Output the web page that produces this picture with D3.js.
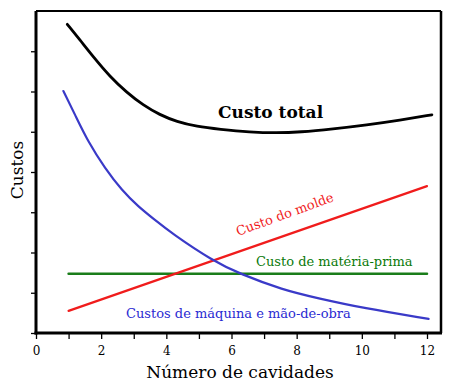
<!DOCTYPE html>
<html>
<head>
<meta charset="utf-8">
<script src="https://cdn.jsdelivr.net/npm/d3@7"></script>
<style>
  body { margin: 0; background: #fff; }
  svg text { font-family: "DejaVu Serif", serif; }
</style>
</head>
<body>
<svg id="chart" width="455" height="389"></svg>
<script>
// values (x = number of cavities, y = cost, no unit)
const xTicks = [0, 1, 2, 3, 4, 5, 6, 7, 8, 9, 10, 11, 12];
const yTicks = [0, 1, 2, 3, 4, 5, 6, 7];

const totalX = [0.96, 1.35, 1.76, 2.27, 2.78, 3.29, 3.8, 4.32, 4.93, 5.64, 6.56, 7.39, 8.1, 9.11, 10.15, 11.17, 12.15];
const totalY = [7.67, 7.28, 6.86, 6.37, 5.98, 5.66, 5.42, 5.25, 5.13, 5.06, 4.99, 4.97, 4.99, 5.07, 5.17, 5.29, 5.42];

const machineX = [0.84, 1.2, 1.6, 2.12, 2.63, 3.14, 3.65, 4.16, 5.43, 6.26, 7.58, 8.62, 10.03, 12.05];
const machineY = [6.01, 5.42, 4.75, 4.09, 3.55, 3.14, 2.81, 2.48, 1.79, 1.47, 1.07, 0.87, 0.62, 0.35];

const moldX = [1, 12];
const moldY = [0.55, 3.65];

const materialX = [1, 12];
const materialY = [1.47, 1.47];

const svg = d3.select("#chart");

const x = d3.scaleLinear().domain([0, 12]).range([36, 427]);
const y = d3.scaleLinear().domain([0, 8]).range([333, 11]);
const right = 441;

// ticks
const xAxis = svg
  .append("g")
  .attr("transform", `translate(0,${y(0)})`)
  .call(
    d3.axisBottom(x)
      .tickValues(xTicks)
      .tickSize(6)
      .tickSizeOuter(0)
      .tickFormat((d) => (d % 2 === 0 ? d : ""))
  );
xAxis.select(".domain").remove();
xAxis.selectAll("line").attr("stroke", "#000").attr("stroke-width", 1.3);
xAxis
  .selectAll("text")
  .attr("y", 13)
  .attr("fill", "#000")
  .style("font-size", "12px")
  .style("font-family", "DejaVu Serif");

const yAxis = svg
  .append("g")
  .attr("transform", `translate(${x(0)},0)`)
  .call(d3.axisLeft(y).tickValues(yTicks).tickSize(5).tickFormat(""));
yAxis.select(".domain").remove();
yAxis.selectAll("line").attr("stroke", "#000").attr("stroke-width", 1.3);

// frame
svg.append("line").attr("x1", x(0)).attr("x2", right).attr("y1", y(8)).attr("y2", y(8))
  .attr("stroke", "#000").attr("stroke-width", 2);
svg.append("line").attr("x1", right).attr("x2", right).attr("y1", y(8)).attr("y2", y(0))
  .attr("stroke", "#000").attr("stroke-width", 2.5);
svg.append("line").attr("x1", x(0)).attr("x2", x(0)).attr("y1", y(8)).attr("y2", y(0) + 1.5)
  .attr("stroke", "#000").attr("stroke-width", 3);
svg.append("line").attr("x1", x(0) - 1.5).attr("x2", right + 1).attr("y1", y(0)).attr("y2", y(0))
  .attr("stroke", "#000").attr("stroke-width", 3);

const line = d3
  .line()
  .x((d) => x(d[0]))
  .y((d) => y(d[1]))
  .curve(d3.curveBasis);

const series = [
  { xs: materialX, ys: materialY, color: "#1a7d1a", width: 2.5 },
  { xs: moldX, ys: moldY, color: "#f01c1c", width: 2.2 },
  { xs: machineX, ys: machineY, color: "#3a3ac8", width: 2.2 },
  { xs: totalX, ys: totalY, color: "#000", width: 2.8 },
];

svg
  .selectAll("path.series")
  .data(series)
  .join("path")
  .attr("class", "series")
  .attr("fill", "none")
  .attr("stroke", (d) => d.color)
  .attr("stroke-width", (d) => d.width)
  .attr("stroke-linecap", "round")
  .attr("d", (d) => line(d.xs.map((v, i) => [v, d.ys[i]])));

// labels
svg.append("text").attr("x", 218).attr("y", 118)
  .style("font-size", "17px").style("font-weight", "bold")
  .attr("fill", "#000").text("Custo total");

svg.append("text").attr("transform", "translate(238,236) rotate(-20)")
  .style("font-size", "13px").attr("fill", "#f01c1c").text("Custo do molde");

svg.append("text").attr("x", 256).attr("y", 266)
  .style("font-size", "13px").attr("fill", "#0a7a0a").text("Custo de matéria-prima");

svg.append("text").attr("x", 126).attr("y", 318)
  .style("font-size", "13px").attr("fill", "#2a2ad2").text("Custos de máquina e mão-de-obra");

svg.append("text").attr("x", 240).attr("y", 378).attr("text-anchor", "middle")
  .style("font-size", "17px").attr("fill", "#000").text("Número de cavidades");

svg.append("text").attr("transform", "translate(23,170) rotate(-90)")
  .attr("text-anchor", "middle")
  .style("font-size", "17px").attr("fill", "#000").text("Custos");
</script>
</body>
</html>
